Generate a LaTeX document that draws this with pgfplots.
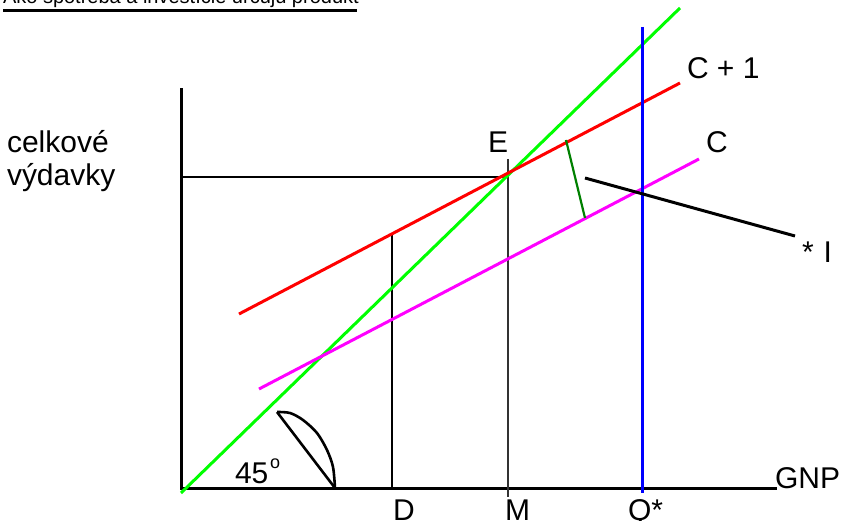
\documentclass[border=0pt]{standalone}
\usepackage{pgfplots}
\pgfplotsset{compat=1.18}
\usepackage{fontspec}
\setmainfont{Liberation Sans}
\definecolor{lgreen}{RGB}{0,255,0}
\definecolor{dgreen}{RGB}{0,128,0}
\definecolor{mag}{RGB}{255,0,255}
\definecolor{rred}{RGB}{255,0,0}
\definecolor{bblue}{RGB}{0,0,255}
\tikzset{lbl/.style={font=\fontsize{30}{36}\selectfont, anchor=base west, inner sep=0pt, outer sep=0pt}}
\begin{document}
\begin{tikzpicture}
\useasboundingbox (0,0) rectangle (844pt,521pt);
\clip (0,0) rectangle (844pt,521pt);
\begin{axis}[at={(0,0)}, anchor=south west, scale only axis,
  width=844pt, height=521pt, xmin=0, xmax=844, ymin=0, ymax=521,
  y dir=reverse, axis lines=none, clip=false]
% axes
\addplot[black, line width=3pt, line cap=rect] coordinates {(181.5,90) (181.5,488.5) (775,488.5)};
% thin black guide lines
\addplot[black, line width=1.5pt] coordinates {(181,177) (508,177)};
\addplot[black!80, line width=2pt] coordinates {(508,159) (508,497)};
\addplot[black, line width=1.5pt] coordinates {(392,233) (392,488)};
% 45 degree line
\addplot[lgreen, line width=3pt] coordinates {(181,493) (680,8)};
% C + I
\addplot[rred, line width=3pt] coordinates {(239,314) (680,83)};
% C
\addplot[mag, line width=3pt] coordinates {(259,389) (699,159)};
% Q*
\addplot[bblue, line width=3pt] coordinates {(642.5,27) (642.5,493)};
% I gap
\addplot[dgreen, line width=2.2pt] coordinates {(566,140) (585,218)};
% I pointer
\addplot[black, line width=3pt] coordinates {(585,178) (795,236)};
% 45 degree arc
\addplot[black, line width=2.6pt, smooth] coordinates {(277,412) (290,413) (303,420) (317,433) (327,450) (333,467) (335,488)};
\addplot[black, line width=2.6pt] coordinates {(277,412) (335,488)};
% title underline
\addplot[black, line width=2.4pt] coordinates {(3,10.5) (357,10.5)};
% texts
\node[lbl, font=\fontsize{20}{24}\selectfont] at (axis cs:3,3.5) {Ako spotreba a investície určujú produkt};
\node[lbl] at (axis cs:7,153) {celkové};
\node[lbl] at (axis cs:7,186) {výdavky};
\node[lbl] at (axis cs:488,153) {E};
\node[lbl] at (axis cs:687,79) {C + 1};
\node[lbl] at (axis cs:706,153) {C};
\node[lbl] at (axis cs:802,263) {*\,\,I};
\node[lbl] at (axis cs:235,483) {45};
\node[lbl, font=\fontsize{18}{22}\selectfont] at (axis cs:270,468) {o};
\node[lbl] at (axis cs:393,520) {D};
\node[lbl] at (axis cs:505,520) {M};
\node[lbl] at (axis cs:628,520) {Q*};
\node[lbl] at (axis cs:775,488) {GNP};
\end{axis}
\end{tikzpicture}
\end{document}
